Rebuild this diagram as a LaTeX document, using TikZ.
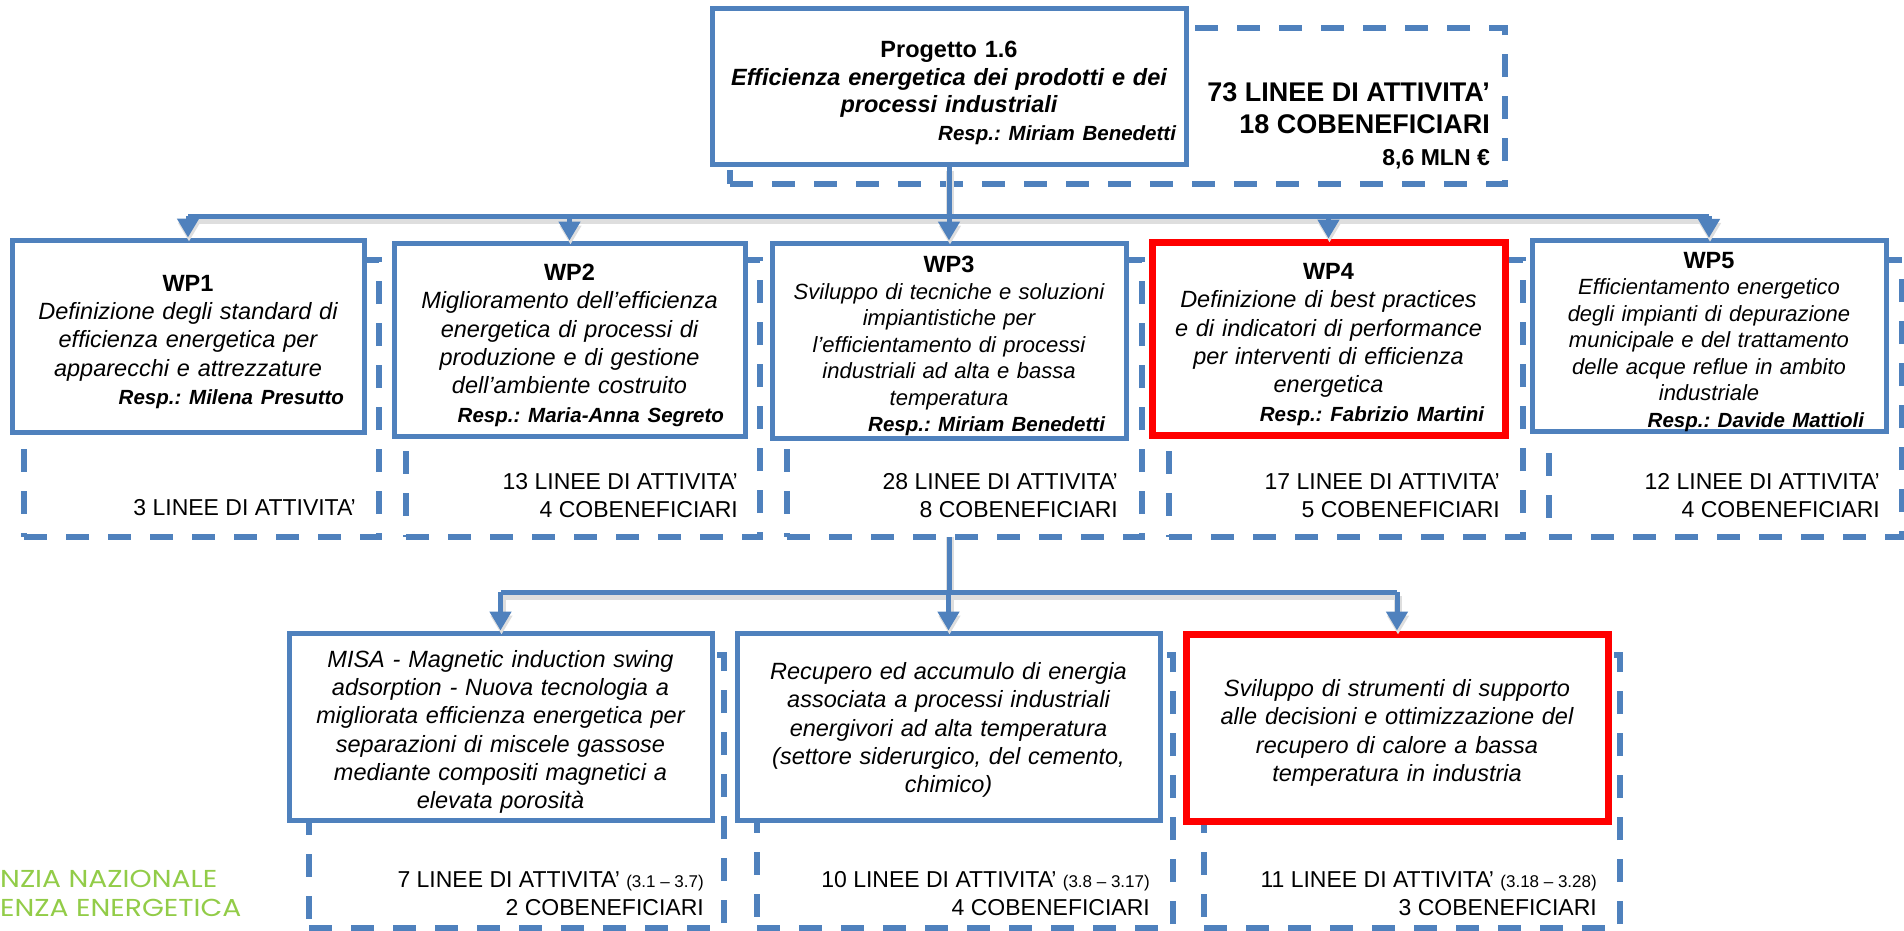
\documentclass[tikz,border=0pt]{standalone}
\usepackage{fontspec}
\setmainfont{Liberation Sans}
\newfontfamily\logofont[FakeStretch=1.15]{Poppins}
\usetikzlibrary{arrows.meta,backgrounds}
\frenchspacing
\hyphenpenalty=10000
\exhyphenpenalty=10000
\definecolor{enblue}{RGB}{79,129,189}
\definecolor{enred}{RGB}{255,0,0}
\definecolor{engreen}{RGB}{146,204,72}
\tikzset{
  box/.style={draw=enblue, line width=5pt, fill=white, inner xsep=20pt, inner ysep=0pt, align=center},
  redbox/.style={box, draw=enred, line width=7pt},
  cntbox/.style={draw=enblue, fill=white, line width=5.5pt, dash pattern=on 23pt off 19pt, inner sep=0pt},
  link/.style={draw=enblue, line width=5pt,
    preaction={draw=black!13, line width=8pt, transform canvas={shift={(1pt,-4pt)}}}},
  arr/.style={link, -{Triangle[width=21pt,length=19pt]}},
  cnt/.style={anchor=east, align=right, inner sep=0pt, font=\fontsize{23}{28}\selectfont},
  wptext/.style={font=\fontsize{23.5}{28.3}\selectfont},
  wpsmall/.style={font=\fontsize{22}{26.5}\selectfont},
}
\newcommand{\topgap}{\rule{0pt}{28pt}}
\newcommand{\wptitle}[1]{\topgap{\bfseries\fontsize{23.5}{26.5}\selectfont #1}}
\newcommand{\resp}[1]{\hspace*{\fill}{\fontsize{20.5}{24}\selectfont\bfseries\itshape Resp.: #1}}
\newcommand{\rng}[1]{{\fontsize{17}{20}\selectfont(#1)}}

\begin{document}
\begin{tikzpicture}[x=1pt,y=-1pt]
\useasboundingbox (0,0) rectangle (1904,930);

% dashed frames with the counts
\node[cntbox, minimum width=775pt, minimum height=156pt] (prjcnt) at (1117.5,106) {};
\node[cntbox, minimum width=355pt, minimum height=277pt] (wp1cnt) at (201.5,398.5) {};
\node[cntbox, minimum width=354pt, minimum height=277pt] (wp2cnt) at (583,398.5) {};
\node[cntbox, minimum width=355pt, minimum height=277pt] (wp3cnt) at (964.5,398.5) {};
\node[cntbox, minimum width=354pt, minimum height=277pt] (wp4cnt) at (1346,398.5) {};
\node[cntbox, minimum width=353pt, minimum height=277pt] (wp5cnt) at (1725.5,398.5) {};
\node[cntbox, minimum width=415pt, minimum height=273pt] (misacnt) at (516.5,791.5) {};
\node[cntbox, minimum width=416pt, minimum height=273pt] (reccnt) at (965,791.5) {};
\node[cntbox, minimum width=416pt, minimum height=273pt] (svicnt) at (1412,791.5) {};

% project
\node[box, text width=454pt, inner xsep=10pt, minimum width=474pt, minimum height=156pt,
  font=\bfseries\fontsize{23.5}{27.5}\selectfont] (prj) at (949,86)
  {\rule{0pt}{30pt}Progetto 1.6\\ \itshape Efficienza energetica dei prodotti e dei\\ processi industriali\\ \resp{Miriam Benedetti}\hspace*{22pt}};
\node[cnt, font=\bfseries\fontsize{27}{32}\selectfont] (prjtot) at (1490,126)
  {73 LINEE DI ATTIVITA’\\ 18 COBENEFICIARI\\ {\fontsize{23}{28}\selectfont 8,6 MLN €}};

% work packages
\node[box, wptext, text width=312pt, minimum width=352pt, minimum height=192pt] (wp1) at (188,336)
  {\wptitle{WP1}\\ \itshape Definizione degli standard di\\ efficienza energetica per\\ apparecchi e attrezzature\\ \resp{Milena Presutto}};
\node[box, wptext, text width=309pt, inner xsep=21pt, minimum width=351pt, minimum height=193pt] (wp2) at (569.5,339.5)
  {\wptitle{WP2}\\ \itshape Miglioramento dell’efficienza\\ energetica di processi di\\ produzione e di gestione\\ dell’ambiente costruito\\ \resp{Maria-Anna Segreto}};
\node[box, wpsmall, text width=312pt, inner xsep=21pt, minimum width=354pt, minimum height=195pt] (wp3) at (949,340.5)
  {\wptitle{WP3}\\ \itshape Sviluppo di tecniche e soluzioni\\ impiantistiche per\\ l’efficientamento di processi\\ industriali ad alta e bassa\\ temperatura\\ \resp{Miriam Benedetti}};
\node[redbox, wptext, text width=311pt, inner xsep=21pt, minimum width=353pt, minimum height=193pt] (wp4) at (1328.5,338.5)
  {\wptitle{WP4}\\ \itshape Definizione di best practices\\ e di indicatori di performance\\ per interventi di efficienza\\ energetica\\ \resp{Fabrizio Martini}};
\node[box, wpsmall, text width=310pt, inner xsep=22pt, minimum width=354pt, minimum height=188pt] (wp5) at (1709,336)
  {\wptitle{WP5}\\ \itshape Efficientamento energetico\\ degli impianti di depurazione\\ municipale e del trattamento\\ delle acque reflue in ambito\\ industriale\\ \resp{Davide Mattioli}};

\node[cnt] (wp1tot) at (356,508) {3 LINEE DI ATTIVITA’};
\node[cnt] (wp2tot) at (738,496) {13 LINEE DI ATTIVITA’\\ 4 COBENEFICIARI};
\node[cnt] (wp3tot) at (1118,496) {28 LINEE DI ATTIVITA’\\ 8 COBENEFICIARI};
\node[cnt] (wp4tot) at (1500,496) {17 LINEE DI ATTIVITA’\\ 5 COBENEFICIARI};
\node[cnt] (wp5tot) at (1880,496) {12 LINEE DI ATTIVITA’\\ 4 COBENEFICIARI};

% WP3 tasks
\node[box, wptext, text width=400pt, inner xsep=11.5pt, minimum width=423pt, minimum height=187pt] (misa) at (500.5,726.5)
  {\itshape\topgap MISA - Magnetic induction swing\\ adsorption - Nuova tecnologia a\\ migliorata efficienza energetica per\\ separazioni di miscele gassose\\ mediante compositi magnetici a\\ elevata porosità};
\node[box, wptext, text width=400pt, inner xsep=11.5pt, minimum width=423pt, minimum height=187pt] (rec) at (948.5,726.5)
  {\itshape\rule{0pt}{24pt}Recupero ed accumulo di energia\\ associata a processi industriali\\ energivori ad alta temperatura\\ (settore siderurgico, del cemento,\\ chimico)};
\node[redbox, wptext, text width=400pt, inner xsep=11pt, minimum width=422pt, minimum height=187pt] (svi) at (1397,727.5)
  {\itshape\topgap Sviluppo di strumenti di supporto\\ alle decisioni e ottimizzazione del\\ recupero di calore a bassa\\ temperatura in industria};

\node[cnt] (misatot) at (704,894) {7 LINEE DI ATTIVITA’ \rng{3.1 – 3.7}\\ 2 COBENEFICIARI};
\node[cnt] (rectot) at (1150,894) {10 LINEE DI ATTIVITA’ \rng{3.8 – 3.17}\\ 4 COBENEFICIARI};
\node[cnt] (svitot) at (1597,894) {11 LINEE DI ATTIVITA’ \rng{3.18 – 3.28}\\ 3 COBENEFICIARI};

% connectors
\coordinate (bus1) at (949,216);
\coordinate (bus2) at (949,592);
\draw[link] (prj.south) -- (prj.south |- bus1);
\draw[link] (wp1.north |- bus1) -- (wp5.north |- bus1);
\foreach \n in {wp1,wp2,wp3,wp4,wp5}
  \draw[arr] (\n.north |- bus1) -- (\n.north);
\begin{scope}[on background layer]
  \draw[link] (wp3.south) -- (wp3.south |- bus2);
\end{scope}
\draw[link] (misa.north |- bus2) -- (svi.north |- bus2);
\foreach \n in {misa,rec,svi}
  \draw[arr] (\n.north |- bus2) -- (\n.north);

% logo
\node[anchor=west, align=left, inner sep=0pt, text=engreen,
  font=\logofont\fontsize{24.5}{29}\selectfont] (logo) at (0,893) {NZIA NAZIONALE\\ ENZA ENERGETICA};
\end{tikzpicture}
\end{document}
